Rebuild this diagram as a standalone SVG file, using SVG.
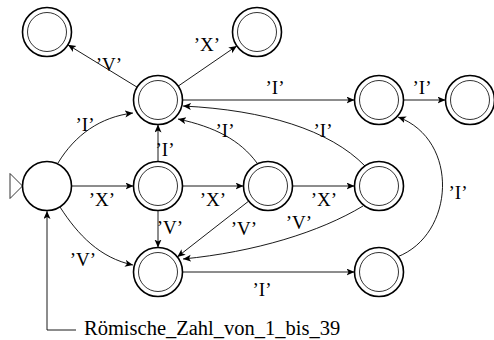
<svg xmlns="http://www.w3.org/2000/svg" width="494" height="340" viewBox="0 0 494 340">
<style>
.outer{fill:#fff;stroke:#000;stroke-width:1.6}
.inner{fill:none;stroke:#000;stroke-width:0.8}
.e{fill:none;stroke:#000;stroke-width:0.9;marker-end:url(#ah)}
.l{font-family:"Liberation Serif","DejaVu Serif",serif;font-size:19px;text-anchor:middle;fill:#000}
.t{font-family:"Liberation Serif","DejaVu Serif",serif;font-size:20.5px;fill:#000}
</style>
<defs>
<marker id="ah" markerUnits="userSpaceOnUse" markerWidth="9" markerHeight="8" refX="8" refY="3.5" orient="auto">
<path d="M0,0 L8,3.5 L0,7 L2,3.5 z" fill="#000"/>
</marker>
</defs>
<rect width="494" height="340" fill="#fff"/>
<g id="connectors">
<line class="e" x1="137.1" y1="87.2" x2="67.9" y2="44.8"/>
<line class="e" x1="178.2" y1="86.1" x2="236.8" y2="45.9"/>
<line class="e" x1="182.5" y1="100" x2="354.5" y2="100"/>
<line class="e" x1="403.5" y1="100" x2="445.5" y2="100"/>
<path class="e" d="M58,163 C75,135 100,117 133,113"/>
<line class="e" x1="158" y1="161.5" x2="158" y2="124.5"/>
<path class="e" d="M257,163 C240,140 215,127 178,119"/>
<path class="e" d="M365,166 C330,130 265,110 183,106"/>
<line class="e" x1="71.5" y1="186" x2="133.5" y2="186"/>
<line class="e" x1="182.5" y1="186" x2="243.5" y2="186"/>
<line class="e" x1="292.5" y1="186" x2="354.5" y2="186"/>
<line class="e" x1="158" y1="210.5" x2="158" y2="247.5"/>
<line class="e" x1="248.7" y1="201.1" x2="177.3" y2="256.9"/>
<path class="e" d="M363,206 C320,232 255,252 183,259"/>
<path class="e" d="M60,207 C78,235 100,258 133,265"/>
<line class="e" x1="182.5" y1="272" x2="354.5" y2="272"/>
<path class="e" d="M397,257 C455,235 460,140 398,117"/>
<path class="e" d="M76,330 H47 V211"/>
<g id="labels">
<text class="l" x="109" y="71">’V’</text>
<text class="l" x="207" y="51">’X’</text>
<text class="l" x="85" y="131">’I’</text>
<text class="l" x="165" y="156">’I’</text>
<text class="l" x="225" y="137">’I’</text>
<text class="l" x="323" y="137">’I’</text>
<text class="l" x="275" y="94">’I’</text>
<text class="l" x="422" y="94">’I’</text>
<text class="l" x="458" y="199">’I’</text>
<text class="l" x="102" y="206">’X’</text>
<text class="l" x="213" y="206">’X’</text>
<text class="l" x="324" y="206">’X’</text>
<text class="l" x="170" y="234">’V’</text>
<text class="l" x="244" y="235">’V’</text>
<text class="l" x="299" y="229">’V’</text>
<text class="l" x="83" y="266">’V’</text>
<text class="l" x="262" y="296">’I’</text>
</g>
</g>
<g id="start">
<polygon points="10,173.5 22.5,186 10,198.5" fill="#fff" stroke="#000" stroke-width="0.8"/>
<circle class="outer" cx="47" cy="186" r="24.5"/>
</g>
<g id="qA"><circle class="outer" cx="47" cy="32" r="24.5"/><circle class="inner" cx="47" cy="32" r="19.5"/></g>
<g id="qB"><circle class="outer" cx="257" cy="32" r="24.5"/><circle class="inner" cx="257" cy="32" r="19.5"/></g>
<g id="qC"><circle class="outer" cx="158" cy="100" r="24.5"/><circle class="inner" cx="158" cy="100" r="19.5"/></g>
<g id="qD"><circle class="outer" cx="379" cy="100" r="24.5"/><circle class="inner" cx="379" cy="100" r="19.5"/></g>
<g id="qE"><circle class="outer" cx="470" cy="100" r="24.5"/><circle class="inner" cx="470" cy="100" r="19.5"/></g>
<g id="qF"><circle class="outer" cx="158" cy="186" r="24.5"/><circle class="inner" cx="158" cy="186" r="19.5"/></g>
<g id="qG"><circle class="outer" cx="268" cy="186" r="24.5"/><circle class="inner" cx="268" cy="186" r="19.5"/></g>
<g id="qH"><circle class="outer" cx="379" cy="186" r="24.5"/><circle class="inner" cx="379" cy="186" r="19.5"/></g>
<g id="qJ"><circle class="outer" cx="158" cy="272" r="24.5"/><circle class="inner" cx="158" cy="272" r="19.5"/></g>
<g id="qK"><circle class="outer" cx="379" cy="272" r="24.5"/><circle class="inner" cx="379" cy="272" r="19.5"/></g>
<g id="annotation">
<text class="t" x="84" y="335">Römische_Zahl_von_1_bis_39</text>
</g>
</svg>
